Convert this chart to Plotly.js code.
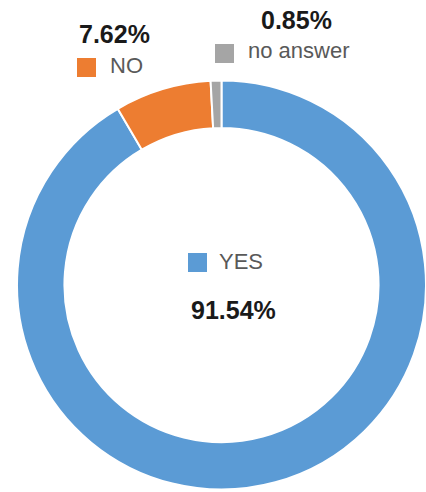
<!DOCTYPE html>
<html>
<head>
<meta charset="utf-8">
<script src="https://cdn.plot.ly/plotly-3.0.1.min.js"></script>
<style>
html,body{margin:0;padding:0;background:#fff;overflow:hidden;}
#chart{width:426px;height:492px;}
</style>
</head>
<body>
<div id="chart"></div>
<script>
const labels = ['YES', 'NO', 'no answer'];
const values = [91.54, 7.62, 0.85];
const colors = ['#5B9BD5', '#ED7D31', '#A5A5A5'];

const W = 426, H = 492;
const M = {l: 17, r: 0, t: 80, b: 2};
const pw = W - M.l - M.r, ph = H - M.t - M.b;
function px(x) { return (x - M.l) / pw; }
function py(y) { return (H - M.b - y) / ph; }

// label placement (pixel layout): [legend square x, square y, label x, label y, pct x, pct y]
const place = [
  {sq: [188, 253], lab: [217, 261], pct: [234, 310]},
  {sq: [77, 58], lab: [108, 66], pct: [114, 34]},
  {sq: [215, 44], lab: [246, 51], pct: [296, 20]}
];
const SQ = 19;
const font = 'Liberation Sans, Arial, sans-serif';

const annotations = [];
const shapes = [];
labels.forEach((lab, i) => {
  const p = place[i];
  shapes.push({type: 'rect', xref: 'paper', yref: 'paper',
    x0: px(p.sq[0]), x1: px(p.sq[0] + SQ), y0: py(p.sq[1] + SQ), y1: py(p.sq[1]),
    fillcolor: colors[i], line: {width: 0}});
  annotations.push({xref: 'paper', yref: 'paper', x: px(p.lab[0]), y: py(p.lab[1]),
    xanchor: 'left', yanchor: 'middle', showarrow: false, text: lab,
    font: {family: font, size: 22, color: '#595959'}});
  annotations.push({xref: 'paper', yref: 'paper', x: px(p.pct[0]), y: py(p.pct[1]),
    xanchor: 'center', yanchor: 'middle', showarrow: false,
    text: '<b>' + values[i].toFixed(2) + '%</b>',
    font: {family: font, size: 25, color: '#1a1a1a'}});
});

Plotly.newPlot('chart', [{
  type: 'pie',
  labels: labels,
  values: values,
  hole: 0.768,
  sort: false,
  direction: 'clockwise',
  rotation: 0,
  textinfo: 'none',
  hoverinfo: 'label+percent',
  marker: {colors: colors, line: {color: '#ffffff', width: 2}}
}], {
  width: W, height: H,
  margin: M,
  showlegend: false,
  paper_bgcolor: '#ffffff',
  annotations: annotations,
  shapes: shapes
}, {displayModeBar: false, staticPlot: true});
</script>
</body>
</html>
